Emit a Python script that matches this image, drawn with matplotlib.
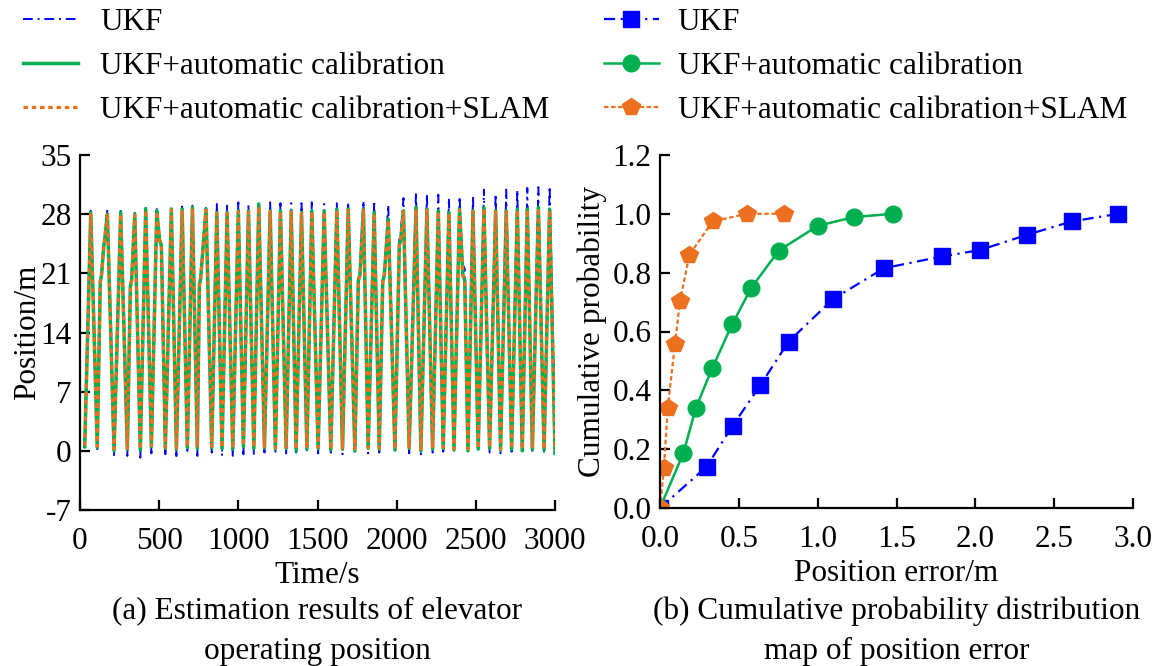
import numpy as np
import matplotlib.pyplot as plt

plt.rcParams["font.family"] = ["Liberation Serif", "DejaVu Serif"]
plt.rcParams["axes.unicode_minus"] = False
plt.rcParams["font.size"] = 22.5

# ===============================
# (a) elevator position, turning points
# ===============================
peak_t = [68, 173, 257, 346, 415, 485, 577, 645, 710, 796, 864, 929, 1000, 1064, 1129, 1201, 1266,
          1334, 1399, 1464, 1542, 1622, 1694, 1790, 1858, 1947, 2043, 2122, 2191, 2263, 2330, 2397,
          2482, 2551, 2625, 2692, 2762, 2825, 2895, 2966]
peak_ukf = [28.4, 28.6, 28.6, 28.4, 28.9, 28.6, 28.8, 28.9, 29.0, 29.0, 29.2, 29.3, 29.4, 29.2, 29.6,
            29.4, 29.3, 29.3, 29.3, 29.4, 29.2, 29.3, 29.4, 29.6, 29.6, 29.1, 29.9, 30.6, 30.4, 30.3,
            29.9, 30.1, 30.2, 30.9, 30.4, 30.9, 30.9, 31.1, 31.2, 31.3]
peak_cal = [28.2, 28.0, 28.2, 28.0, 28.6, 28.4, 28.6, 28.6, 28.8, 28.6, 28.2, 28.2, 28.4, 28.4, 29.2,
            28.4, 28.4, 28.4, 28.2, 28.4, 28.4, 28.6, 28.6, 28.6, 28.2, 27.4, 28.4, 28.8, 28.6, 28.4,
            28.2, 28.6, 28.4, 28.8, 28.4, 28.4, 28.6, 28.6, 28.8, 28.6]
peak_slam = [28.0, 28.1, 28.0, 27.9, 28.5, 28.3, 28.5, 28.5, 28.7, 28.5, 28.1, 28.1, 28.3, 28.3, 28.9,
             28.3, 28.3, 28.3, 28.1, 28.3, 28.3, 28.5, 28.5, 28.5, 28.1, 27.3, 28.3, 28.6, 28.5, 28.3,
             28.1, 28.5, 28.3, 28.7, 28.3, 28.3, 28.5, 28.5, 28.7, 28.5]

trough_t = [30, 109, 215, 299, 381, 451, 539, 609, 678, 741, 832, 897, 965, 1032, 1098, 1165, 1234,
            1302, 1365, 1433, 1504, 1584, 1658, 1736, 1820, 1890, 1989, 2079, 2153, 2227, 2294, 2362,
            2450, 2515, 2587, 2656, 2726, 2793, 2857, 2931, 3000]
trough_ukf = [0.3, 0.2, -0.5, -0.6, -0.8, -0.3, -0.4, -0.9, -0.3, -0.6, -0.2, -0.6, -0.7, -0.4, -0.6,
              -0.2, -0.1, -0.3, -0.2, -0.1, -0.3, -0.2, -0.4, -0.1, -0.3, -0.2, -0.1, -0.3, -0.4, -0.2,
              -0.1, -0.3, -0.2, -0.1, -0.2, -0.3, -0.1, -0.2, -0.3, -0.2, 2.8]
trough_cal = [0.5, 0.4, 0.0, 0.2, 0.1, 0.5, 0.3, 0.2, 0.4, 0.3, 0.4, 0.3, 0.2, 0.5, 0.3,
              0.4, 0.2, 0.3, 0.0, 0.2, 0.3, 0.1, 0.2, 0.0, 0.3, 0.2, 0.1, 0.3, 0.0, 0.2,
              0.3, 0.1, 0.0, 0.2, 0.3, 0.1, 0.2, 0.0, 0.2, 0.1, -0.3]
trough_slam = [0.6, 0.5, 0.2, 0.3, 0.2, 0.6, 0.4, 0.3, 0.5, 0.4, 0.5, 0.4, 0.3, 0.6, 0.4,
               0.5, 0.3, 0.4, 0.2, 0.3, 0.4, 0.2, 0.3, 0.2, 0.4, 0.3, 0.2, 0.4, 0.2, 0.3,
               0.4, 0.2, 0.2, 0.3, 0.4, 0.2, 0.3, 0.2, 0.3, 0.2, 0.0]

# small plateaus on some edges
step_t = [128, 136, 150, 156, 318, 326, 502, 514, 754, 762, 1758, 1768, 1912, 1922, 2017, 2026, 2418, 2430]
step_ukf = [20.0, 20.8, 24.4, 25.1, 19.4, 20.2, 25.1, 24.4, 19.6, 20.4, 20.4, 21.0, 20.2, 21.0, 25.2, 25.8, 22.0, 21.5]
step_cal = [20.0, 20.8, 24.2, 25.0, 19.4, 20.2, 25.0, 24.3, 19.6, 20.4, 20.2, 20.8, 20.0, 20.8, 24.4, 25.0, 20.8, 20.2]
step_slam = [20.0, 20.8, 24.2, 25.0, 19.4, 20.2, 25.0, 24.3, 19.6, 20.4, 20.2, 20.8, 20.0, 20.8, 24.4, 25.0, 20.8, 20.2]

# ===============================
# (b) cumulative probability of the position error
# ===============================
err_ukf = [0.0, 0.295, 0.46, 0.637, 0.816, 1.097, 1.42, 1.787, 2.03, 2.33, 2.61, 2.905]
cdf_ukf = [0.0, 0.14, 0.279, 0.418, 0.566, 0.71, 0.815, 0.855, 0.877, 0.929, 0.974, 1.0]
err_cal = [0.0, 0.148, 0.228, 0.331, 0.458, 0.58, 0.753, 1.0, 1.228, 1.477]
cdf_cal = [0.0, 0.186, 0.341, 0.475, 0.625, 0.749, 0.875, 0.959, 0.989, 1.0]
err_slam = [0.0, 0.025, 0.049, 0.095, 0.127, 0.186, 0.333, 0.549, 0.787]
cdf_slam = [0.0, 0.135, 0.339, 0.557, 0.704, 0.86, 0.974, 1.0, 1.0]

labels = ["UKF", "UKF+automatic calibration", "UKF+automatic calibration+SLAM"]
c_blue, c_green, c_orange = "#0000FF", "#00B050", "#ED7020"

t_all = np.concatenate([peak_t, trough_t, step_t])
order = np.argsort(t_all)
t_all = t_all[order]
pos_ukf = np.concatenate([peak_ukf, trough_ukf, step_ukf])[order]
pos_cal = np.concatenate([peak_cal, trough_cal, step_cal])[order]
pos_slam = np.concatenate([peak_slam, trough_slam, step_slam])[order]

fig = plt.figure(figsize=(11.6, 6.66), dpi=100)
ax1 = fig.add_axes([80 / 1160, 1 - 510 / 666, 475 / 1160, 355 / 666])
ax2 = fig.add_axes([660 / 1160, 1 - 508 / 666, 473 / 1160, 353 / 666])

ax1.plot(t_all, pos_ukf, color=c_blue, lw=1.4, ls=(0, (5, 2.5, 1, 2.5)), label=labels[0])
ax1.plot(t_all, pos_cal, color=c_green, lw=2.5, ls="-", label=labels[1])
ax1.plot(t_all, pos_slam, color=c_orange, lw=2.2, ls=(0, (1.5, 1.2)), label=labels[2])
ax1.set_xlim(0, 3000)
ax1.set_ylim(-7, 35)
ax1.set_xticks(np.arange(0, 3001, 500))
ax1.set_yticks(np.arange(-7, 36, 7))
ax1.set_xlabel("Time/s", labelpad=4)
ax1.set_ylabel("Position/m", labelpad=-1)

ax2.plot(err_ukf, cdf_ukf, color=c_blue, lw=1.6, ls=(0, (5, 2.5, 1, 2.5)), marker="s", ms=12,
         label=labels[0])
ax2.plot(err_cal, cdf_cal, color=c_green, lw=1.8, ls="-", marker="o", ms=12, label=labels[1])
ax2.plot(err_slam, cdf_slam, color=c_orange, lw=1.6, ls=(0, (2, 1.2)), marker="p", ms=13,
         label=labels[2])
ax2.set_xlim(0, 3.0)
ax2.set_ylim(0, 1.2)
ax2.set_xticks(np.arange(0, 3.01, 0.5))
ax2.set_yticks(np.arange(0, 1.21, 0.2))
ax2.set_xticklabels(["{:.1f}".format(v) for v in np.arange(0, 3.01, 0.5)])
ax2.set_yticklabels(["{:.1f}".format(v) for v in np.arange(0, 1.21, 0.2)])
ax2.set_xlabel("Position error/m", labelpad=4)
ax2.set_ylabel("Cumulative probability", labelpad=4)

for ax in (ax1, ax2):
    for s in ("top", "right"):
        ax.spines[s].set_visible(False)
    for s in ("left", "bottom"):
        ax.spines[s].set_linewidth(1.6)
    ax.tick_params(direction="in", length=7, width=1.6, labelsize=22.5, pad=6)
    ax.tick_params(axis="x", pad=12)

h1, l1 = ax1.get_legend_handles_labels()
fig.legend(h1, l1, loc="upper left", bbox_to_anchor=(20 / 1160, 1 - 5 / 666), frameon=False,
           handlelength=1.75, handletextpad=0.72, labelspacing=0.48, borderaxespad=0, borderpad=0.1)
h2, l2 = ax2.get_legend_handles_labels()
fig.legend(h2, l2, loc="upper left", bbox_to_anchor=(601 / 1160, 1 - 5 / 666), frameon=False,
           handlelength=1.75, handletextpad=0.6, labelspacing=0.48, borderaxespad=0, borderpad=0.1)

fig.text(317 / 1160, 1 - 631 / 666, "(a) Estimation results of elevator\noperating position",
         ha="center", va="center", linespacing=1.5)
fig.text(897 / 1160, 1 - 631 / 666, "(b) Cumulative probability distribution\nmap of position error",
         ha="center", va="center", linespacing=1.5)

fig.savefig("out.png", dpi=100)
